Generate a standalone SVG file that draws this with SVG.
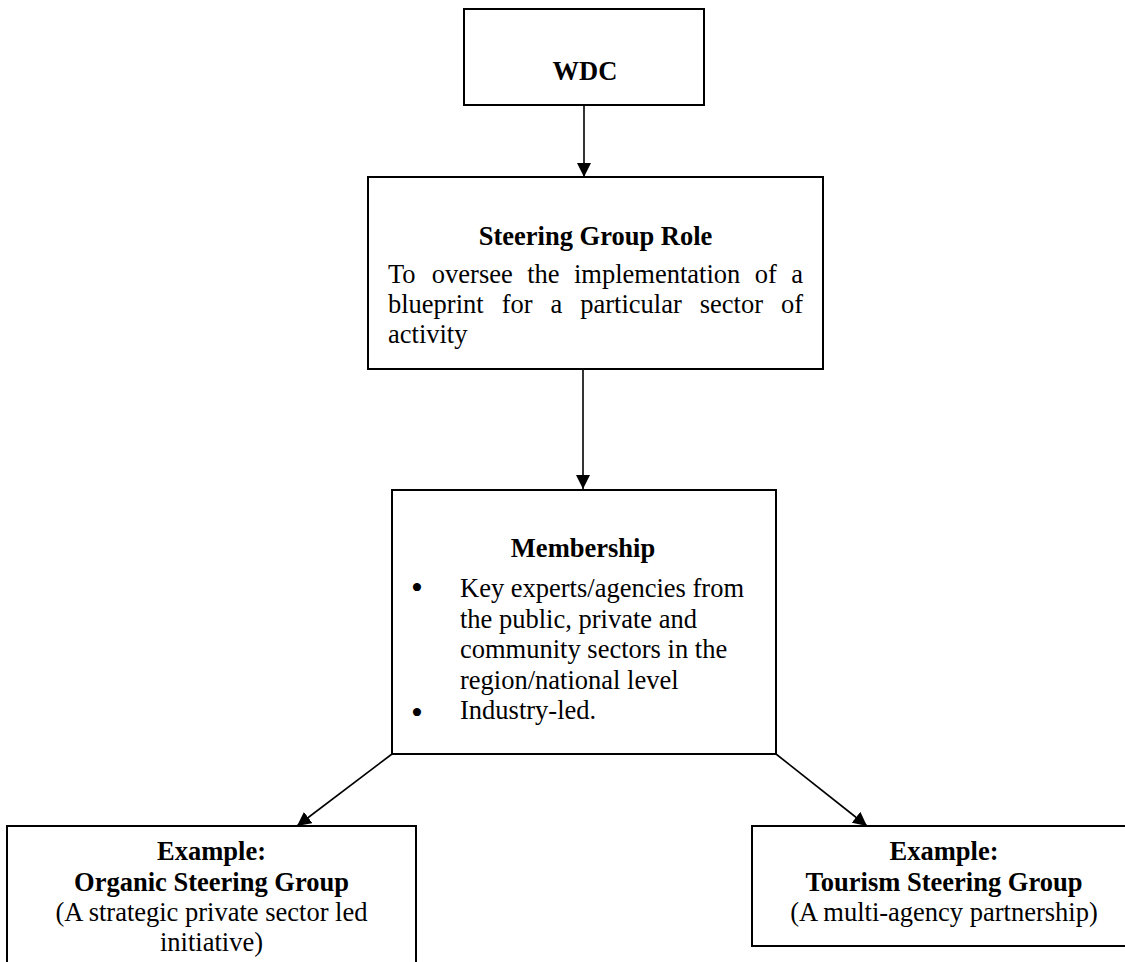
<svg xmlns="http://www.w3.org/2000/svg" width="1125" height="962" viewBox="0 0 1125 962">
<style>
.box{fill:#fff;stroke:#000;stroke-width:2}
.t{font-family:"Liberation Serif","Times New Roman",serif;font-size:26.5px;fill:#000}
.b{font-weight:bold}
.c{text-anchor:middle}
.bul{font-family:"Liberation Serif","Times New Roman",serif;font-size:34px;fill:#000;text-anchor:middle}
.edge{stroke:#000;stroke-width:1.6;fill:none;marker-end:url(#ah)}
</style>
<defs>
<marker id="ah" viewBox="0 0 14 14" refX="14" refY="7" markerWidth="14" markerHeight="14" markerUnits="userSpaceOnUse" orient="auto">
<path d="M0,0 L14,7 L0,14 Z" fill="#000"/>
</marker>
</defs>
<rect width="1125" height="962" fill="#fff"/>
<g id="connectors">
<line class="edge" x1="584" y1="105" x2="584" y2="177"/>
<line class="edge" x1="583" y1="370" x2="583" y2="489"/>
<line class="edge" x1="392" y1="754" x2="297" y2="826"/>
<line class="edge" x1="776" y1="754" x2="867" y2="826"/>
</g>
<g id="wdc">
<rect class="box" x="464" y="9" width="240" height="96"/>
<text class="t b c" x="585" y="80">WDC</text>
</g>
<g id="steering">
<rect class="box" x="368" y="177" width="455" height="192"/>
<text class="t b c" x="595.5" y="245">Steering Group Role</text>
<text class="t" y="283"><tspan x="388">To</tspan><tspan x="431.85">oversee</tspan><tspan x="527.19">the</tspan><tspan x="573.98">implementation</tspan><tspan x="754.76">of</tspan><tspan x="791.24">a</tspan></text>
<text class="t" y="313"><tspan x="388">blueprint</tspan><tspan x="501.64">for</tspan><tspan x="550.49">a</tspan><tspan x="580.21">particular</tspan><tspan x="699.71">sector</tspan><tspan x="780.94">of</tspan></text>
<text class="t" x="388" y="343">activity</text>
</g>
<g id="membership">
<rect class="box" x="392" y="490" width="384" height="264"/>
<text class="t b c" x="583" y="557">Membership</text>
<text class="bul" x="417" y="599">•</text>
<text class="t" x="460" y="597">Key experts/agencies from</text>
<text class="t" x="460" y="627.5">the public, private and</text>
<text class="t" x="460" y="658">community sectors in the</text>
<text class="t" x="460" y="688.5">region/national level</text>
<text class="bul" x="417" y="724">•</text>
<text class="t" x="460" y="719">Industry-led.</text>
</g>
<g id="organic">
<rect class="box" x="7" y="826" width="409" height="150"/>
<text class="t b c" x="211.5" y="860">Example:</text>
<text class="t b c" x="211.5" y="891">Organic Steering Group</text>
<text class="t c" x="211.5" y="921">(A strategic private sector led</text>
<text class="t c" x="211.5" y="951">initiative)</text>
</g>
<g id="tourism">
<rect class="box" x="752" y="826" width="384" height="120"/>
<text class="t b c" x="944" y="860">Example:</text>
<text class="t b c" x="944" y="891">Tourism Steering Group</text>
<text class="t c" x="944" y="921">(A multi-agency partnership)</text>
</g>
</svg>
